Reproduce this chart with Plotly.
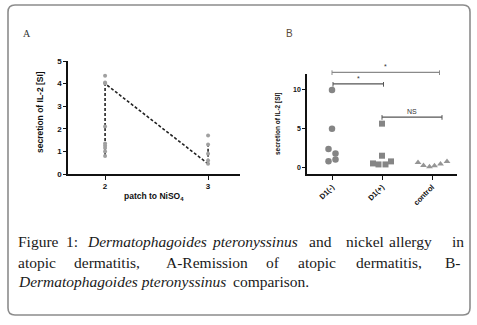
import plotly.graph_objects as go

W, H = 477, 325

# ---- Panel A data ----
a_patch = [2, 2, 2, 2, 2, 2, 2, 2, 2, 3, 3, 3, 3, 3]
a_il2 = [4.35, 4.05, 4.0, 2.1, 1.35, 1.25, 1.15, 1.0, 0.8, 1.7, 1.3, 0.9, 0.6, 0.45]
a_line_x = [2, 2, 3, 3]
a_line_y = [0.8, 4.0, 0.45, 1.3]
a_ticks = [2, 3]

# ---- Panel B data ----
b_categories = ["D1(-)", "D1(+)", "control"]
b_dm_x = [0, 0, -0.07, 0.07, -0.07, 0.07]
b_dm_y = [10.0, 5.0, 2.4, 1.85, 0.85, 1.05]
b_dp_x = [1, 1, 0.82, 0.93, 1.07, 1.18]
b_dp_y = [5.67, 1.55, 0.56, 0.43, 0.43, 0.82]
b_ct_x = [1.72, 1.83, 1.95, 2.05, 2.17, 2.3]
b_ct_y = [0.69, 0.3, 0.13, 0.26, 0.5, 0.8]
b_ticks = [0, 5, 10]
# significance brackets
sig_x0 = [0.0, 0.02, 1.0]
sig_x1 = [2.15, 1.03, 2.2]
sig_y = [12.27, 10.77, 6.52]
sig_lab = ["*", "*", "NS"]
sig_col = ["#8a8a8a", "#555555", "#555555"]

# caption words: (text, left px, line)
cap_words = [
    ("Figure", 17, 0), ("1:", 65, 0), ("<i>Dermatophagoides</i>", 86, 0),
    ("<i>pteronyssinus</i>", 211, 0), ("and", 308, 0), ("nickel", 345, 0),
    ("allergy", 388, 0), ("in", 451, 0),
    ("atopic", 17, 1), ("dermatitis,", 73, 1), ("A-Remission", 165, 1),
    ("of", 265, 1), ("atopic", 297, 1), ("dermatitis,", 355, 1), ("B-", 444, 1),
    ("<i>Dermatophagoides pteronyssinus</i>", 17, 2), ("comparison.", 232, 2),
]
cap_line_y = [242, 262, 281]

# axis ranges
A_XR = [1.64, 3.31]
A_YR = [0, 5]
B_XR = [-0.5, 2.5]
B_YR = [-0.8, 12.05]


def px(x):
    return x / W


def py(y):
    return 1 - y / H


def bx(v):  # fraction of x2 domain
    return (v - B_XR[0]) / (B_XR[1] - B_XR[0])


def by(v):  # fraction of y2 domain
    return (v - B_YR[0]) / (B_YR[1] - B_YR[0])


fig = go.Figure()

# Panel A
fig.add_trace(go.Scatter(x=a_line_x, y=a_line_y, mode="lines",
                         line=dict(color="#222222", width=1.6, dash="3px,2px"),
                         xaxis="x", yaxis="y", showlegend=False))
fig.add_trace(go.Scatter(x=a_patch, y=a_il2, mode="markers",
                         marker=dict(color="#a0a0a0", size=4),
                         xaxis="x", yaxis="y", showlegend=False))

# Panel B
fig.add_trace(go.Scatter(x=b_dm_x, y=b_dm_y, mode="markers",
                         marker=dict(color="#858585", size=6.5, symbol="circle"),
                         xaxis="x2", yaxis="y2", showlegend=False))
fig.add_trace(go.Scatter(x=b_dp_x, y=b_dp_y, mode="markers",
                         marker=dict(color="#858585", size=6, symbol="square"),
                         xaxis="x2", yaxis="y2", showlegend=False))
fig.add_trace(go.Scatter(x=b_ct_x, y=b_ct_y, mode="markers",
                         marker=dict(color="#959595", size=6, symbol="triangle-up"),
                         xaxis="x2", yaxis="y2", showlegend=False))

shapes = []
annotations = []
for x0, x1, y, lab, col in zip(sig_x0, sig_x1, sig_y, sig_lab, sig_col):
    shapes.append(dict(type="line", xref="x2 domain", yref="y2 domain",
                       x0=bx(x0), x1=bx(x1), y0=by(y), y1=by(y),
                       line=dict(color=col, width=1.3)))
    for xe in (x0, x1):
        shapes.append(dict(type="line", xref="x2 domain", yref="y2 domain",
                           x0=bx(xe), x1=bx(xe), y0=by(y - 0.35), y1=by(y + 0.25),
                           line=dict(color=col, width=1)))
    annotations.append(dict(x=bx((x0 + x1) / 2), y=by(y), xref="x2 domain", yref="y2 domain",
                            text=lab, showarrow=False, xanchor="center", yanchor="bottom",
                            font=dict(family="Liberation Sans", size=7, color="#333")))

# rounded border
x0, x1, y0, y1, r = 8, 470, 5, 315, 7
rx, ry = r / W, r / H
path = (f"M {px(x0)+rx},{py(y0)} L {px(x1)-rx},{py(y0)} Q {px(x1)},{py(y0)} {px(x1)},{py(y0)-ry} "
        f"L {px(x1)},{py(y1)+ry} Q {px(x1)},{py(y1)} {px(x1)-rx},{py(y1)} "
        f"L {px(x0)+rx},{py(y1)} Q {px(x0)},{py(y1)} {px(x0)},{py(y1)+ry} "
        f"L {px(x0)},{py(y0)-ry} Q {px(x0)},{py(y0)} {px(x0)+rx},{py(y0)} Z")
shapes.append(dict(type="path", xref="paper", yref="paper", path=path,
                   line=dict(color="#8c8c8c", width=1.6)))

# panel letters
annotations.append(dict(x=px(27), y=py(33), xref="paper", yref="paper", text="A",
                        xanchor="center", yanchor="middle", showarrow=False,
                        font=dict(family="Liberation Serif", size=10, color="#333")))
annotations.append(dict(x=px(289), y=py(33), xref="paper", yref="paper", text="B",
                        xanchor="center", yanchor="middle", showarrow=False,
                        font=dict(family="Liberation Sans", size=10, color="#5a4a3a")))

# axis titles
annotations.append(dict(x=px(40), y=py(112), xref="paper", yref="paper",
                        text="<b>secretion of IL-2 [SI]</b>", textangle=-90, showarrow=False,
                        xanchor="center", yanchor="middle",
                        font=dict(family="Liberation Sans", size=8.5, color="#111")))
annotations.append(dict(x=px(154), y=py(196), xref="paper", yref="paper",
                        text="<b>patch to NiSO<sub>4</sub></b>", showarrow=False,
                        xanchor="center", yanchor="middle",
                        font=dict(family="Liberation Sans", size=8.5, color="#111")))
annotations.append(dict(x=px(278), y=py(124), xref="paper", yref="paper",
                        text="<b>secretion of IL-2 [SI]</b>", textangle=-90, showarrow=False,
                        xanchor="center", yanchor="middle",
                        font=dict(family="Liberation Sans", size=6.5, color="#111")))

# caption
for txt, left, line in cap_words:
    annotations.append(dict(x=px(left), y=py(cap_line_y[line]), xref="paper", yref="paper",
                            text=txt, showarrow=False, xanchor="left", yanchor="middle",
                            borderpad=0,
                            font=dict(family="Liberation Serif", size=15.5, color="#1a1a1a")))

axis_common = dict(showgrid=False, zeroline=False, showline=True, linecolor="#111",
                   linewidth=1.5, ticks="outside", tickcolor="#111", tickwidth=1.2,
                   automargin=False)

fig.update_layout(
    width=W, height=H, margin=dict(l=0, r=0, t=0, b=0),
    paper_bgcolor="white", plot_bgcolor="white",
    xaxis=dict(domain=[px(68), px(240)], range=A_XR, tickvals=a_ticks,
               ticktext=[f"<b>{t}</b>" for t in a_ticks], ticklen=4, anchor="y",
               tickfont=dict(family="Liberation Sans", size=8, color="#111"), **axis_common),
    yaxis=dict(domain=[py(174), py(61)], range=A_YR, tickvals=[0, 1, 2, 3, 4, 5],
               ticktext=[f"<b>{t}</b>" for t in range(6)], ticklen=3, anchor="x",
               tickfont=dict(family="Liberation Sans", size=8, color="#111"), **axis_common),
    xaxis2=dict(domain=[px(307), px(457)], range=B_XR, tickvals=[0, 1, 2],
                ticktext=[f"<b>{c}</b>" for c in b_categories], tickangle=-45, ticklen=4,
                anchor="y2", tickfont=dict(family="Liberation Sans", size=7.5, color="#111"),
                **axis_common),
    yaxis2=dict(domain=[py(174), py(74)], range=B_YR, tickvals=b_ticks,
                ticktext=[f"<b>{t}</b>" for t in b_ticks], ticklen=3, anchor="x2",
                tickfont=dict(family="Liberation Sans", size=7, color="#111"), **axis_common),
    shapes=shapes, annotations=annotations,
)

fig.write_html("out.html", config={"displayModeBar": False},
               post_script="document.body.style.margin='0px';")
